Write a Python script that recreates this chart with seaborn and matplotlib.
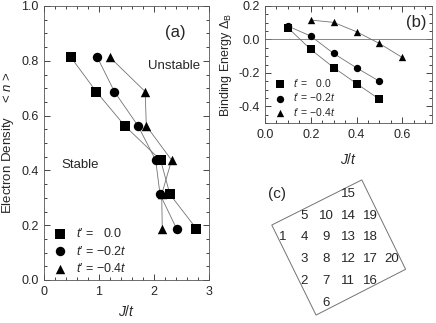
import matplotlib as mpl

mpl.use('Agg')
import matplotlib.pyplot as plt
from matplotlib.ticker import MultipleLocator
from matplotlib.patches import Polygon
import seaborn as sns
import pandas as pd

#### Data ####
n_levels = [0.8125, 0.6875, 0.5625, 0.4375, 0.3125, 0.1875]
jt_00 = [0.49, 0.95, 1.47, 2.12, 2.29, 2.77]
jt_02 = [0.97, 1.28, 1.71, 2.03, 2.11, 2.41]
jt_04 = [1.20, 1.84, 1.86, 2.32, 2.14, 2.15]

jb_00 = [0.1, 0.2, 0.3, 0.4, 0.5]
eb_00 = [0.070, -0.060, -0.168, -0.264, -0.358]
jb_02 = [0.1, 0.2, 0.3, 0.4, 0.5]
eb_02 = [0.080, 0.020, -0.084, -0.170, -0.250]
jb_04 = [0.2, 0.3, 0.4, 0.5, 0.6]
eb_04 = [0.116, 0.102, 0.046, -0.024, -0.108]

labels = ["t' =   0.0", "t' = \u22120.2t", "t' = \u22120.4t"]
markers = ['s', 'o', '^']

# cluster sites (c): label, column, row
site_lbl = ['15', '5', '10', '14', '19', '1', '4', '9', '13', '18',
            '3', '8', '12', '17', '20', '2', '7', '11', '16', '6']
site_col = [3, 1, 2, 3, 4, 0, 1, 2, 3, 4, 1, 2, 3, 4, 5, 1, 2, 3, 4, 2]
site_row = [0, 1, 1, 1, 1, 2, 2, 2, 2, 2, 3, 3, 3, 3, 3, 4, 4, 4, 4, 5]
cell_corners = [(-0.48, 1.43), (3.63, -0.65), (5.63, 3.47), (1.54, 5.58)]
########################

sns.set_style('ticks')
plt.rcParams['font.family'] = ['Liberation Sans', 'DejaVu Sans']
plt.rcParams['mathtext.fontset'] = 'custom'
plt.rcParams['mathtext.it'] = 'Liberation Sans:italic'
plt.rcParams['mathtext.rm'] = 'Liberation Sans'

W, H = 436, 323
fig = plt.figure(figsize=(W / 100, H / 100), dpi=100)


def px_axes(l, t, r, b):
    return fig.add_axes([l / W, 1 - b / H, (r - l) / W, (b - t) / H])


def fancy(lbl):
    # italic t, true prime
    lbl = lbl.replace("t' =", "$t$\u2032 =")
    if lbl.endswith('t'):
        lbl = lbl[:-1] + '$t$'
    return lbl


def style_ticks(ax, size):
    ax.tick_params(which='both', direction='in', top=True, right=True,
                   labelsize=size, pad=4)
    ax.tick_params(which='major', length=4, width=0.6)
    ax.tick_params(which='minor', length=2.5, width=0.6)
    for sp in ax.spines.values():
        sp.set_linewidth(0.6)
        sp.set_color('#555555')


# ---- panel (a) ----
ax_a = px_axes(44, 6, 209, 280)
for xs, lbl, m in zip([jt_00, jt_02, jt_04], labels, markers):
    df = pd.DataFrame({'J': xs, 'n': n_levels})
    sns.lineplot(data=df, x='J', y='n', sort=False, color='0.45',
                 lw=0.6, ax=ax_a, legend=False)
    sns.scatterplot(data=df, x='J', y='n', marker=m, color='k', s=46,
                    edgecolor='k', linewidth=0, label=fancy(lbl), ax=ax_a,
                    zorder=3)
ax_a.set_xlim(0, 3)
ax_a.set_ylim(0, 1)
ax_a.xaxis.set_major_locator(MultipleLocator(1))
ax_a.xaxis.set_minor_locator(MultipleLocator(0.2))
ax_a.yaxis.set_major_locator(MultipleLocator(0.2))
ax_a.yaxis.set_minor_locator(MultipleLocator(0.05))
ax_a.set_yticks([0, 0.2, 0.4, 0.6, 0.8, 1.0],
                ['0.0', '0.2', '0.4', '0.6', '0.8', '1.0'])
style_ticks(ax_a, 9)
ax_a.set_xlabel('$J/t$', fontsize=10, labelpad=5)
ax_a.set_ylabel('Electron Density    < $n$ >', fontsize=9.5, labelpad=4)
ax_a.text(2.38, 0.905, '(a)', fontsize=12, ha='center', va='center')
ax_a.text(2.37, 0.78, 'Unstable', fontsize=9.5, ha='center', va='center')
ax_a.text(0.65, 0.42, 'Stable', fontsize=9.5, ha='center', va='center')
ax_a.legend(loc='lower left', frameon=False, fontsize=9, handlelength=0.8,
            handletextpad=0.9, labelspacing=0.38, borderaxespad=0.3,
            bbox_to_anchor=(0.015, -0.015))

# ---- panel (b) ----
ax_b = px_axes(265, 6, 432, 123)
ax_b.axhline(0, color='0.45', lw=0.6, zorder=1)
for xs, ys, lbl, m in zip([jb_00, jb_02, jb_04], [eb_00, eb_02, eb_04],
                          labels, markers):
    df = pd.DataFrame({'J': xs, 'E': ys})
    sns.lineplot(data=df, x='J', y='E', color='0.45', lw=0.6, ax=ax_b,
                 legend=False)
    sns.scatterplot(data=df, x='J', y='E', marker=m, color='k', s=28,
                    edgecolor='k', linewidth=0, label=fancy(lbl), ax=ax_b,
                    zorder=3)
ax_b.set_xlim(0, 0.73)
ax_b.set_ylim(-0.5, 0.2)
ax_b.xaxis.set_minor_locator(MultipleLocator(0.05))
ax_b.yaxis.set_minor_locator(MultipleLocator(0.05))
ax_b.set_xticks([0, 0.2, 0.4, 0.6], ['0.0', '0.2', '0.4', '0.6'])
ax_b.set_yticks([0.2, 0.0, -0.2, -0.4], ['0.2', '0.0', '-0.2', '-0.4'])
style_ticks(ax_b, 9)
ax_b.set_xlabel('$J/t$', fontsize=10, labelpad=8)
ax_b.set_ylabel(r'Binding Energy $\Delta_{\rm B}$', fontsize=9, labelpad=3)
ax_b.text(0.66, 0.1, '(b)', fontsize=12, ha='center', va='center')
ax_b.legend(loc='lower left', frameon=False, fontsize=7.5, handlelength=0.8,
            handletextpad=0.9, labelspacing=0.25, borderaxespad=0.3,
            bbox_to_anchor=(0.02, -0.02))

# ---- panel (c) ----
ax_c = px_axes(220, 165, 436, 323)
ax_c.set_axis_off()
ax_c.set_xlim((220 - 282.3) / 21.9, (436 - 282.3) / 21.9)
ax_c.set_ylim((323 - 194) / 21.7, (165 - 194) / 21.7)
ax_c.add_patch(Polygon(cell_corners, closed=True, fill=False,
                       edgecolor='0.45', lw=0.7))
for lbl, c, r in zip(site_lbl, site_col, site_row):
    ax_c.text(c, r, lbl, fontsize=9.5, ha='center', va='center')
ax_c.text(-0.22, 0, '(c)', fontsize=11, ha='center', va='center')

plt.savefig('out.png', dpi=100)
